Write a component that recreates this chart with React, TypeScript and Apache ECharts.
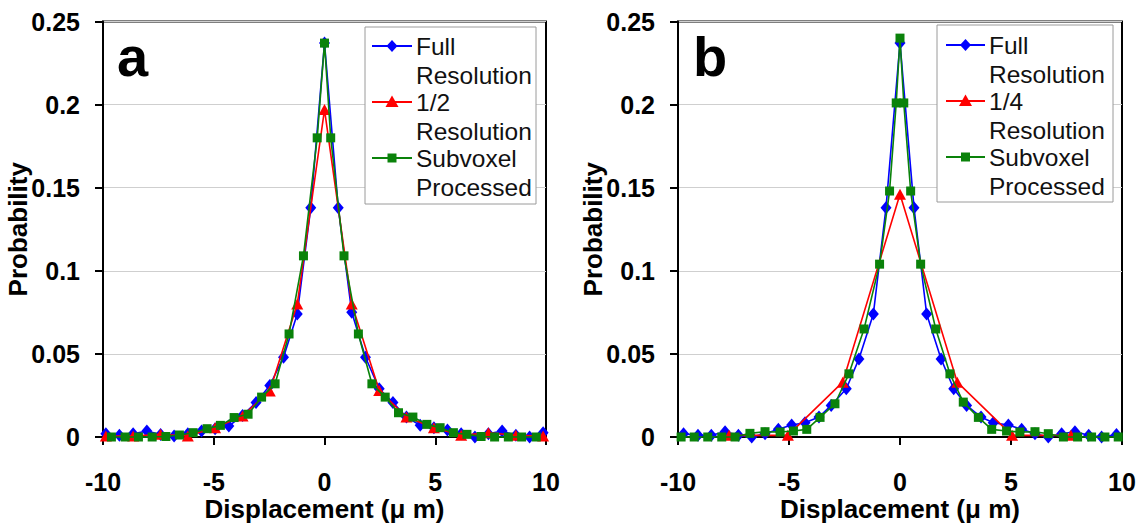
import React, { useEffect, useRef } from "react";
import * as echarts from "echarts";

// ---------- Data ----------
const X_TICK_INTERVAL = 5;
const Y_TICK_INTERVAL = 0.05;

// Panel a
const FULL_RES_A_X = [-9.87, -9.26, -8.64, -8.02, -7.4, -6.79, -6.17, -5.55, -4.94, -4.32, -3.7, -3.09, -2.47, -1.85, -1.23, -0.62, 0, 0.62, 1.23, 1.85, 2.47, 3.09, 3.7, 4.32, 4.94, 5.55, 6.17, 6.79, 7.4, 8.02, 8.64, 9.26, 9.87];
const FULL_RES_A_Y = [0.002, 0.001, 0.002, 0.0036, 0.0015, 0.0006, 0.002, 0.0036, 0.005, 0.0066, 0.013, 0.0207, 0.031, 0.048, 0.074, 0.138, 0.237, 0.138, 0.075, 0.048, 0.029, 0.0207, 0.012, 0.007, 0.0055, 0.0042, 0.002, 0.0, 0.002, 0.0036, 0.001, 0.0, 0.0026];
const HALF_RES_A_X = [-9.87, -8.64, -7.4, -6.17, -4.94, -3.7, -2.47, -1.23, 0, 1.23, 2.47, 3.7, 4.94, 6.17, 7.4, 8.64, 9.87];
const HALF_RES_A_Y = [0.0006, 0.0006, 0.0016, 0.0006, 0.0056, 0.0127, 0.0277, 0.08, 0.197, 0.08, 0.028, 0.012, 0.0056, 0.001, 0.0026, 0.001, 0.0006];
const SUBVOXEL_A_X = [-9.62, -9.0, -8.4, -7.78, -7.16, -6.55, -5.93, -5.3, -4.7, -4.08, -3.45, -2.84, -2.23, -1.6, -0.95, -0.33, 0, 0.28, 0.88, 1.53, 2.14, 2.74, 3.34, 3.99, 4.62, 5.22, 5.82, 6.43, 7.07, 7.68, 8.3, 8.9, 9.56];
const SUBVOXEL_A_Y = [0, 0, 0, 0, 0.0003, 0.0012, 0.0026, 0.005, 0.007, 0.0117, 0.0137, 0.024, 0.032, 0.062, 0.109, 0.18, 0.237, 0.18, 0.109, 0.062, 0.032, 0.024, 0.0146, 0.012, 0.0076, 0.0056, 0.0026, 0.0016, 0.0003, 0, 0, 0, 0];

// Panel b
const FULL_RES_B_X = [-9.75, -9.1, -8.5, -7.88, -7.28, -6.68, -6.08, -5.48, -4.88, -4.28, -3.65, -3.1, -2.42, -1.85, -1.2, -0.63, 0, 0.63, 1.2, 1.85, 2.42, 3.0, 3.65, 4.2, 4.88, 5.48, 6.08, 6.68, 7.28, 7.88, 8.5, 9.08, 9.75];
const FULL_RES_B_Y = [0.002, 0.001, 0.001, 0.0032, 0.001, 0, 0.002, 0.0046, 0.0072, 0.0086, 0.012, 0.019, 0.029, 0.047, 0.074, 0.138, 0.237, 0.138, 0.074, 0.047, 0.029, 0.019, 0.012, 0.0086, 0.0072, 0.0046, 0.002, 0, 0.002, 0.0032, 0.001, 0, 0.0015];
const QUARTER_RES_B_X = [-7.7, -5.05, -2.58, 0, 2.58, 5.05, 7.7];
const QUARTER_RES_B_Y = [0.001, 0.001, 0.033, 0.146, 0.033, 0.001, 0.001];
const SUBVOXEL_B_X = [-9.86, -9.27, -8.66, -8.03, -7.43, -6.76, -6.08, -5.4, -4.8, -4.2, -3.6, -2.93, -2.3, -1.62, -0.92, -0.47, -0.17, 0, 0.17, 0.48, 0.93, 1.61, 2.25, 2.85, 3.53, 4.13, 4.8, 5.4, 6.08, 6.68, 7.36, 8.0, 8.63, 9.23, 9.83];
const SUBVOXEL_B_Y = [0, 0, 0, 0, 0, 0.0022, 0.0032, 0.003, 0.0036, 0.0046, 0.0118, 0.02, 0.038, 0.065, 0.104, 0.148, 0.201, 0.24, 0.201, 0.148, 0.104, 0.065, 0.038, 0.021, 0.0118, 0.0046, 0.0036, 0.003, 0.0032, 0.002, 0, 0, 0, 0, 0];

const PANEL_LETTERS = ["a", "b"];
const LEGEND_A = [["Full", "Resolution"], ["1/2", "Resolution"], ["Subvoxel", "Processed"]];
const LEGEND_B = [["Full", "Resolution"], ["1/4", "Resolution"], ["Subvoxel", "Processed"]];
const X_AXIS_NAME = "Displacement (\u03bc m)";
const Y_AXIS_NAME = "Probability";

// ---------- Styles ----------
const FONT = "'Liberation Sans', Arial, Helvetica, sans-serif";
const BLUE = "#0000ff";
const RED = "#ff0000";
const GREEN = "#0a820a";

const zip = (xs: number[], ys: number[]) => xs.map((x, i) => [x, ys[i]]);

function lineSeries(name: string, xs: number[], ys: number[], color: string, symbol: string, size: any, idx: number, z: number) {
  return {
    name,
    type: "line",
    xAxisIndex: idx,
    yAxisIndex: idx,
    data: zip(xs, ys),
    symbol,
    symbolSize: size,
    clip: false,
    z,
    lineStyle: { color, width: 1.6 },
    itemStyle: { color, borderWidth: 0 },
  };
}

function legendGraphic(box: { x: number; y: number; w: number; h: number }, lineX0: number, lineX1: number, textX: number, firstY: number, step: number, lh: number, labels: string[][]) {
  const els: any[] = [];
  els.push({
    type: "rect",
    shape: { x: box.x, y: box.y, width: box.w, height: box.h },
    style: { fill: "#fff", stroke: "#9a9a9a", lineWidth: 1 },
    z: 100,
  });
  const colors = [BLUE, RED, GREEN];
  labels.forEach((lines, i) => {
    const cy = firstY + i * step;
    const cx = (lineX0 + lineX1) / 2;
    const c = colors[i];
    els.push({ type: "line", shape: { x1: lineX0, y1: cy, x2: lineX1, y2: cy }, style: { stroke: c, lineWidth: 1.8 }, z: 101 });
    if (i === 0) {
      els.push({ type: "polygon", shape: { points: [[cx, cy - 6], [cx + 5.5, cy], [cx, cy + 6], [cx - 5.5, cy]] }, style: { fill: c }, z: 102 });
    } else if (i === 1) {
      els.push({ type: "polygon", shape: { points: [[cx, cy - 6.5], [cx + 6.5, cy + 5], [cx - 6.5, cy + 5]] }, style: { fill: c }, z: 102 });
    } else {
      els.push({ type: "rect", shape: { x: cx - 4.5, y: cy - 4.5, width: 9, height: 9 }, style: { fill: c }, z: 102 });
    }
    lines.forEach((t, j) => {
      els.push({
        type: "text",
        x: textX,
        y: cy + j * lh,
        style: { text: t, fontFamily: FONT, fontSize: 24.5, fill: "#111", verticalAlign: "middle", align: "left" },
        z: 102,
      });
    });
  });
  return els;
}

export default function App() {
  const ref = useRef<HTMLDivElement>(null);

  useEffect(() => {
    if (!ref.current) return;
    const chart = echarts.init(ref.current, null, { renderer: "svg" });

    const gridTop = 21.5;
    const gridBottom = 88;
    const grids = [
      { left: 103, right: 597, top: gridTop, bottom: gridBottom },
      { left: 678, right: 21, top: gridTop, bottom: gridBottom },
    ].map((g) => ({
      ...g,
      show: true,
      borderColor: "#000",
      borderWidth: 2,
      backgroundColor: "transparent",
      containLabel: false,
      outerBoundsMode: "none",
    }));

    const xAxes = [0, 1].map((i) => ({
      type: "value",
      gridIndex: i,
      min: -10,
      max: 10,
      interval: X_TICK_INTERVAL,
      name: X_AXIS_NAME,
      nameLocation: "middle",
      nameGap: 59,
      nameMoveOverlap: false,
      nameTextStyle: { fontFamily: FONT, fontWeight: "bold", fontSize: 26, color: "#000" },
      axisLine: { show: true, onZero: false, lineStyle: { color: "#000", width: 2 } },
      axisTick: { show: true, inside: false, length: 8, lineStyle: { color: "#000", width: 2 } },
      axisLabel: { margin: 32, fontFamily: FONT, fontWeight: "bold", fontSize: 25, color: "#000" },
      splitLine: { show: false },
    }));

    const yAxes = [0, 1].map((i) => ({
      type: "value",
      gridIndex: i,
      min: 0,
      max: 0.25,
      interval: Y_TICK_INTERVAL,
      name: Y_AXIS_NAME,
      nameLocation: "middle",
      nameGap: 72,
      nameMoveOverlap: false,
      nameTextStyle: { fontFamily: FONT, fontWeight: "bold", fontSize: 26, color: "#000" },
      axisLine: { show: true, onZero: false, lineStyle: { color: "#000", width: 2 } },
      axisTick: { show: true, inside: false, length: 8, lineStyle: { color: "#000", width: 2 } },
      axisLabel: { margin: 23, fontFamily: FONT, fontWeight: "bold", fontSize: 25, color: "#000" },
      splitLine: { show: true, lineStyle: { color: "#cfcfcf", width: 1 } },
    }));

    const series = [
      lineSeries("Full Resolution", FULL_RES_A_X, FULL_RES_A_Y, BLUE, "diamond", [11, 13], 0, 3),
      lineSeries("1/2 Resolution", HALF_RES_A_X, HALF_RES_A_Y, RED, "triangle", [12, 11], 0, 4),
      lineSeries("Subvoxel Processed", SUBVOXEL_A_X, SUBVOXEL_A_Y, GREEN, "rect", 9, 0, 5),
      lineSeries("Full Resolution", FULL_RES_B_X, FULL_RES_B_Y, BLUE, "diamond", [11, 13], 1, 3),
      lineSeries("1/4 Resolution", QUARTER_RES_B_X, QUARTER_RES_B_Y, RED, "triangle", [12, 11], 1, 4),
      lineSeries("Subvoxel Processed", SUBVOXEL_B_X, SUBVOXEL_B_Y, GREEN, "rect", 9, 1, 5),
    ];

    const graphic: any[] = [
      ...legendGraphic({ x: 365, y: 27, w: 171, h: 177 }, 372, 412, 416, 46, 56, 29.5, LEGEND_A),
      ...legendGraphic({ x: 937, y: 25, w: 176, h: 177 }, 946, 985, 989, 45, 56, 29.5, LEGEND_B),
      {
        type: "text",
        x: 117,
        y: 56,
        style: { text: PANEL_LETTERS[0], fontFamily: FONT, fontWeight: "bold", fontSize: 56, fill: "#000", verticalAlign: "middle" },
        z: 50,
      },
      {
        type: "text",
        x: 693,
        y: 56,
        style: { text: PANEL_LETTERS[1], fontFamily: FONT, fontWeight: "bold", fontSize: 56, fill: "#000", verticalAlign: "middle" },
        z: 50,
      },
    ];

    chart.setOption({
      animation: false,
      backgroundColor: "#fff",
      grid: grids,
      xAxis: xAxes,
      yAxis: yAxes,
      series,
      graphic,
    });

    return () => chart.dispose();
  }, []);

  return (
    <div
      ref={ref}
      style={{ position: "absolute", left: 0, top: 0, width: 1143, height: 525, background: "#fff" }}
    />
  );
}
